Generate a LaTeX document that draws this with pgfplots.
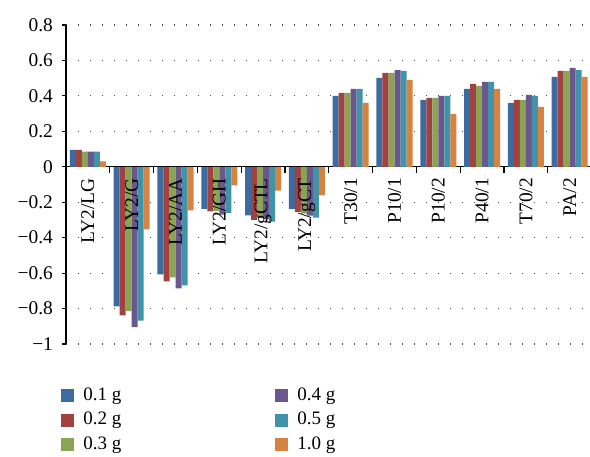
\documentclass[border=0pt]{standalone}
\usepackage{fontspec}
\setmainfont{Liberation Serif}
\usepackage{pgfplots}
\usepackage{pgfplotstable}
\pgfplotsset{compat=1.18}
\definecolor{c1}{RGB}{61,107,160}
\definecolor{c2}{RGB}{161,66,65}
\definecolor{c3}{RGB}{137,164,82}
\definecolor{c4}{RGB}{108,86,142}
\definecolor{c5}{RGB}{64,147,168}
\definecolor{c6}{RGB}{214,130,65}
\pgfplotsset{
  sqleg/.style={legend image code/.code={\fill[##1] (0pt,-3.25pt) rectangle (6.5pt,3.25pt);}},
}
\tikzset{xl/.style={rotate=90, anchor=east, inner sep=0pt, font=\fontsize{9.7}{11}\selectfont}}
\pgfplotstableread{
x a b c d e f
0 0.095 0.095 0.085 0.085 0.085 0.030
1 -0.787 -0.838 -0.815 -0.905 -0.868 -0.353
2 -0.607 -0.646 -0.624 -0.686 -0.669 -0.246
3 -0.237 -0.252 -0.250 -0.270 -0.260 -0.105
4 -0.274 -0.300 -0.290 -0.295 -0.310 -0.134
5 -0.237 -0.254 -0.265 -0.275 -0.287 -0.162
6 0.400 0.417 0.417 0.439 0.439 0.360
7 0.501 0.530 0.530 0.546 0.541 0.490
8 0.377 0.389 0.389 0.400 0.400 0.299
9 0.439 0.468 0.456 0.479 0.479 0.439
10 0.360 0.377 0.377 0.406 0.400 0.338
11 0.507 0.541 0.541 0.558 0.546 0.507
}\data
\begin{document}
\begin{tikzpicture}
\begin{axis}[
  at={(33pt,56pt)}, anchor=south west,
  scale only axis, width=262.8pt, height=159.5pt,
  xmin=-0.5, xmax=11.5, ymin=-1, ymax=0.8,
  axis x line=middle, axis y line=left,
  axis line style={-, black, line width=0.7pt},
  ybar=0pt, bar width=3pt,
  xtick={0,...,11},
  xticklabels={},
  minor xtick={-0.5,0.5,...,11.5},
  major x tick style={draw=none},
  minor x tick style={black, line width=0.6pt},
  minor tick length=3pt,
  major tick length=2pt,
  tick align=outside,
  y tick style={black, line width=0.6pt},
  ytick={-1,-0.8,-0.6,-0.4,-0.2,0,0.2,0.4,0.6,0.8},
  yticklabels={−1,−0.8,−0.6,−0.4,−0.2,0,0.2,0.4,0.6,0.8},
  ymajorgrids,
  grid style={black!70, line width=0.6pt, dash pattern=on 0.6pt off 5.4pt},
  tick label style={font=\fontsize{9.7}{11}\selectfont},
  yticklabel style={xshift=-1pt},
  clip=false,
  legend columns=3, transpose legend,
  legend cell align=left,
  legend style={at={(rel axis cs:-0.0095,-0.136)}, anchor=north west, draw=none, fill=none, inner sep=0pt,
    font=\fontsize{9.5}{11}\selectfont, row sep=4.4pt,
    nodes={inner sep=0pt},
    /tikz/every odd column/.append style={column sep=4.5pt},
    /tikz/every even column/.append style={column sep=77pt}},
]
\addplot[fill=c1, draw=none, sqleg] table[x=x, y=a] {\data};
\addplot[fill=c2, draw=none, sqleg] table[x=x, y=b] {\data};
\addplot[fill=c3, draw=none, sqleg] table[x=x, y=c] {\data};
\addplot[fill=c4, draw=none, sqleg] table[x=x, y=d] {\data};
\addplot[fill=c5, draw=none, sqleg] table[x=x, y=e] {\data};
\addplot[fill=c6, draw=none, sqleg] table[x=x, y=f] {\data};
\legend{0.1 g, 0.2 g, 0.3 g, 0.4 g, 0.5 g, 1.0 g}
\node[xl] at ([yshift=-5.5pt]axis cs:0,0) {LY2/LG};
\node[xl] at ([yshift=-5.5pt]axis cs:1,0) {LY2/G};
\node[xl] at ([yshift=-5.5pt]axis cs:2,0) {LY2/AA};
\node[xl] at ([yshift=-5.5pt]axis cs:3,0) {LY2/GH};
\node[xl] at ([yshift=-5.5pt]axis cs:4,0) {LY2/gCTL};
\node[xl] at ([yshift=-5.5pt]axis cs:5,0) {LY2/gCT};
\node[xl] at ([yshift=-5.5pt]axis cs:6,0) {T30/1};
\node[xl] at ([yshift=-5.5pt]axis cs:7,0) {P10/1};
\node[xl] at ([yshift=-5.5pt]axis cs:8,0) {P10/2};
\node[xl] at ([yshift=-5.5pt]axis cs:9,0) {P40/1};
\node[xl] at ([yshift=-5.5pt]axis cs:10,0) {T70/2};
\node[xl] at ([yshift=-5.5pt]axis cs:11,0) {PA/2};
\end{axis}
\pgfresetboundingbox
\path[use as bounding box] (0,0) rectangle (295pt,228pt);
\end{tikzpicture}
\end{document}
